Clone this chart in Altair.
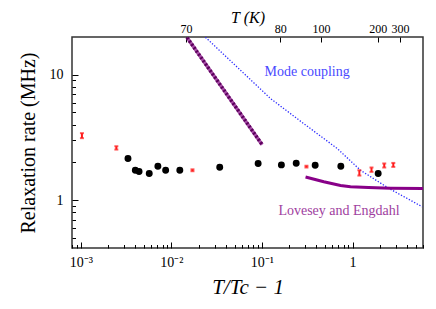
import altair as alt
import pandas as pd

# ---- data ----
circ_x = [0.00332, 0.0040, 0.0044, 0.0057, 0.0071, 0.00865, 0.0124, 0.0342, 0.0908, 0.164, 0.239, 0.387, 0.743, 1.92]
circ_y = [2.15, 1.73, 1.69, 1.63, 1.86, 1.73, 1.73, 1.83, 1.96, 1.91, 1.97, 1.90, 1.86, 1.63]

red_x = [0.00103, 0.00247, 0.0171, 0.31, 1.19, 1.62, 2.24, 2.82]
red_y = [3.27, 2.61, 1.73, 1.85, 1.65, 1.75, 1.89, 1.91]
red_err = [0.15, 0.08, 0.03, 0.03, 0.08, 0.07, 0.07, 0.07]

pd_x = [0.0149, 0.1005]
pd_y = [19.8, 2.77]

ps_x = [0.303, 0.482, 0.737, 0.95, 1.5, 2.63, 6.0]
ps_y = [1.53, 1.40, 1.31, 1.28, 1.26, 1.246, 1.24]

mc_x = [0.0238, 0.125, 0.29, 0.678, 1.225, 2.52, 5.89]
mc_y = [19.9, 6.44, 4.07, 2.58, 1.73, 1.24, 0.885]

Tc = 69.0
top_T = [70, 80, 100, 200, 300]
top_vals = [t / Tc - 1 for t in top_T]

x_major = [0.001, 0.01, 0.1, 1]
x_minor = [0.0008, 0.0009] + [k * d for d in (0.001, 0.01, 0.1) for k in range(2, 10)] + [2, 3, 4, 5, 6]
y_major = [1, 10]
y_minor = [0.5, 0.6, 0.7, 0.8, 0.9] + list(range(2, 10))

XDOM = [0.0008, 6.0]
YDOM = [0.415, 20]
SERIF = "Liberation Serif"

circ = pd.DataFrame({"x": circ_x, "y": circ_y})
red = pd.DataFrame({"x": red_x, "y": red_y,
                    "lo": [y - e for y, e in zip(red_y, red_err)],
                    "hi": [y + e for y, e in zip(red_y, red_err)]})
pdash = pd.DataFrame({"x": pd_x, "y": pd_y})
psol = pd.DataFrame({"x": ps_x, "y": ps_y})
mc = pd.DataFrame({"x": mc_x, "y": mc_y})
labels = pd.DataFrame({"x": [0.107, 0.152], "y": [10.6, 0.818],
                       "t": ["Mode coupling", "Lovesey and Engdahl"],
                       "c": ["#4a4aff", "#a040a0"]})

xs = alt.Scale(type="log", domain=XDOM, nice=False)
ys = alt.Scale(type="log", domain=YDOM, nice=False)

bottom_label_expr = ("datum.value < 0.005 ? '10⁻³' : datum.value < 0.05 ? '10⁻²' : "
                     "datum.value < 0.5 ? '10⁻¹' : '1'")

# Black circles: carry bottom/left major axes
points = alt.Chart(circ).mark_circle(color="black", size=48, opacity=1).encode(
    x=alt.X("x:Q", scale=xs, axis=alt.Axis(
        orient="bottom", values=x_major, offset=-6, tickSize=6, labelPadding=7,
        labelExpr=bottom_label_expr, domain=False, grid=False,
        title="T/Tc − 1", titleFontStyle="italic", titleFontSize=21, titlePadding=7,
        labelFontSize=14)),
    y=alt.Y("y:Q", scale=ys, axis=alt.Axis(
        orient="left", values=y_major, offset=-6, tickSize=6, labelPadding=9,
        domain=False, grid=False, format="~g",
        title="Relaxation rate (MHz)", titleFontSize=20, titlePadding=11,
        labelFontSize=14)),
)

# Blue dotted mode-coupling line: carries minor ticks
mcline = alt.Chart(mc).mark_line(color="#2b2bff", strokeWidth=1.3, strokeDash=[1.3, 1.7], clip=True).encode(
    x=alt.X("x:Q", scale=xs, axis=alt.Axis(
        orient="bottom", values=x_minor, offset=-3.5, tickSize=3.5, labels=False,
        domain=False, grid=False, title=None)),
    y=alt.Y("y:Q", scale=ys, axis=alt.Axis(
        orient="left", values=y_minor, offset=-3.5, tickSize=3.5, labels=False,
        domain=False, grid=False, title=None)),
    order="x:Q",
)

# Purple steep line: carries top temperature axis
pd_base = alt.Chart(pdash).mark_line(color="#a64ca6", strokeWidth=3.5, clip=True).encode(
    x=alt.X("x:Q", scale=xs, axis=alt.Axis(
        orient="top", values=top_vals, offset=-5, tickSize=5, labelPadding=2,
        labelExpr="format(69*(1+datum.value), '.0f')", domain=False, grid=False,
        title="T (K)", titleFontStyle="italic", titleFontSize=16, titlePadding=-3,
        labelFontSize=12)),
    y=alt.Y("y:Q", scale=ys, axis=None),
)
pd_dash = alt.Chart(pdash).mark_line(color="#5c005c", strokeWidth=3.5, strokeDash=[2, 2], clip=True).encode(
    x=alt.X("x:Q", scale=xs, axis=None),
    y=alt.Y("y:Q", scale=ys, axis=None),
)

psline = alt.Chart(psol).mark_line(color="#880088", strokeWidth=3, clip=True).encode(
    x=alt.X("x:Q", scale=xs, axis=None),
    y=alt.Y("y:Q", scale=ys, axis=None),
    order="x:Q",
)

errs = alt.Chart(red).mark_errorbar(ticks=True, size=4, thickness=2, color="#ff1a1a").encode(
    x=alt.X("x:Q", scale=xs, axis=None),
    y=alt.Y("lo:Q", scale=ys, axis=None),
    y2="hi:Q",
)

txt = alt.Chart(labels).mark_text(font=SERIF, fontSize=14, align="left", baseline="middle").encode(
    x=alt.X("x:Q", scale=xs, axis=None),
    y=alt.Y("y:Q", scale=ys, axis=None),
    text="t:N",
    color=alt.Color("c:N", scale=None),
)

chart = alt.layer(mcline, pd_base, pd_dash, psline, errs, points, txt).resolve_axis(
    x="independent", y="independent"
).properties(
    width=351, height=211,
    padding={"left": 64, "top": 29, "right": 5, "bottom": 61},
    autosize=alt.AutoSizeParams(type="none"),
).configure_axis(
    labelFont=SERIF, titleFont=SERIF, labelColor="black", titleColor="black",
    tickColor="black", titleFontWeight="normal", tickWidth=1,
).configure_view(
    stroke="#333333", strokeWidth=1.5
)

chart.save("out.html", embed_options={"renderer": "svg", "actions": False})
